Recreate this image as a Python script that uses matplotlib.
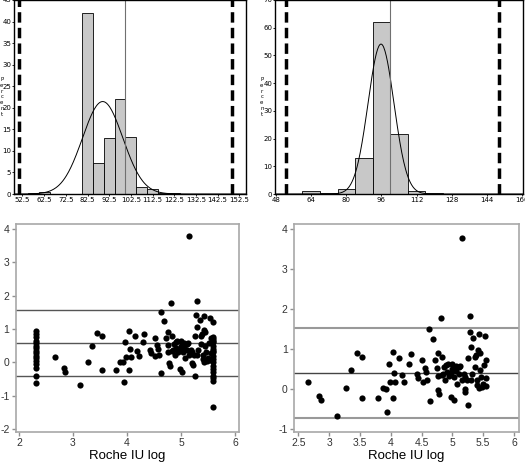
import numpy as np
import matplotlib
matplotlib.use("Agg")
import matplotlib.pyplot as plt

plt.rcParams["axes.unicode_minus"] = False

# histogram data (percent per bin)
h1_centers = [57.5, 62.5, 82.5, 87.5, 92.5, 97.5, 102.5, 107.5, 112.5, 117.5, 122.5]
h1_percent = [0.2, 0.5, 42.0, 7.3, 13.0, 22.0, 13.2, 1.6, 1.2, 0.3, 0.3]
h1_mean, h1_sd = 89.5, 9.3
h1_limits = [51, 149]
h1_xticks = [52.5, 62.5, 72.5, 82.5, 92.5, 102.5, 112.5, 122.5, 132.5, 142.5, 152.5]

h2_centers = [64, 72, 80, 88, 96, 104, 112, 120]
h2_percent = [1.2, 0.3, 1.8, 13.0, 62.0, 21.5, 1.2, 0.25]
h2_mean, h2_sd = 95.8, 5.9
h2_limits = [52.5, 149.5]
h2_xticks = [48, 64, 80, 96, 112, 128, 144, 160]

# Bland-Altman style points (shared by both panels)
pts_x = [2.66, 2.84, 2.86, 3.12, 3.28, 3.35, 3.45, 3.53, 3.54, 3.79, 3.87, 3.92, 3.94, 3.97,
         3.98, 4.03, 4.04, 4.06, 4.07, 4.14, 4.19, 4.22, 4.30, 4.32, 4.43, 4.44, 4.51, 4.52,
         4.56, 4.57, 4.59, 4.62, 4.63, 4.68, 4.72, 4.75, 4.76, 4.76, 4.77, 4.79, 4.82, 4.83,
         4.83, 4.86, 4.88, 4.91, 4.93, 4.95, 4.98, 4.99, 5.02, 5.03, 5.06, 5.07, 5.10, 5.12,
         5.15, 5.15, 5.18, 5.20, 5.21, 5.23, 5.25, 5.25, 5.28, 5.29, 5.30, 5.31, 5.34, 5.37,
         5.38, 5.40, 5.40, 5.42, 5.43, 5.43, 5.45, 5.46, 5.48, 5.49, 5.51, 5.53, 5.55, 5.55,
         5.54, 4.90, 4.97, 5.05, 5.10, 5.30, 5.20, 5.36, 5.45, 5.00, 4.85]
pts_y = [0.17, -0.18, -0.28, -0.68, 0.02, 0.48, 0.89, 0.80, -0.23, -0.24, 0.01, 0.0, -0.59, 0.61,
         0.16, 0.93, -0.23, 0.40, 0.17, 0.78, 0.35, 0.18, 0.62, 0.86, 0.38, 0.27, 0.73, 0.18,
         0.53, 0.41, 0.22, 1.50, -0.31, 1.24, 0.73, 0.51, 0.90, 0.32, -0.03, -0.12, 1.78, 0.80,
         0.34, 0.55, 0.22, 0.43, 0.63, 0.32, -0.20, 0.63, -0.28, 0.30, 0.57, 0.13, 0.38, 0.58,
         3.78, 0.22, 0.38, -0.01, -0.08, 0.22, -0.41, 0.78, 1.41, 1.83, 1.05, 0.38, 1.26, 0.55,
         0.84, 0.23, 0.09, 0.97, 0.01, 1.38, 0.48, 0.30, 0.05, 0.13, 0.59, 1.32, 0.72, 0.28,
         0.07, 0.60, 0.40, 0.45, 0.55, 0.22, 0.30, 0.80, 0.90, 0.50, 0.38]

# censored values only in left panel
low_x = [2.31] * 16
low_y = [0.93, 0.85, 0.75, 0.65, 0.58, 0.50, 0.42, 0.35, 0.28, 0.20, 0.12, 0.05, -0.05, -0.18,
         -0.40, -0.62]
high_x = [5.58] * 19
high_y = [1.20, 0.75, 0.70, 0.65, 0.60, 0.50, 0.40, 0.30, 0.20, 0.10, 0.0, -0.10, -0.20, -0.30,
          -0.40, -0.48, -0.55, 0.35, -1.35]

left_lines = [1.57, 0.58, -0.42]
right_lines = [1.53, 0.40, -0.72]

fig = plt.figure(figsize=(5.25, 4.65), dpi=100)


def hist_panel(rect, centers, percent, width, mean, sd, limits, xticks, xlim, ylim, yticks, labels):
    ax = fig.add_axes(rect)
    ax.bar(centers, percent, width=width, color="#c8c8c8", edgecolor="black", linewidth=0.6)
    xs = np.linspace(xlim[0], xlim[1], 400)
    ys = 100 * width / (sd * np.sqrt(2 * np.pi)) * np.exp(-0.5 * ((xs - mean) / sd) ** 2)
    ax.plot(xs, ys, color="black", lw=0.7)
    ax.axvline(100, color="#707070", lw=0.8)
    for lim in limits:
        ax.axvline(lim, color="black", lw=2.5, dashes=(3, 1.5))
    ax.set_xlim(xlim)
    ax.set_ylim(ylim)
    ax.set_xticks(xticks)
    ax.set_xticklabels(labels)
    ax.set_yticks(yticks)
    ax.tick_params(labelsize=5, length=1.5, width=0.6, pad=0.5)
    for s in ax.spines.values():
        s.set_linewidth(1.0)
    return ax


hist_panel([14 / 525, 1 - 194 / 465, 232 / 525, 194 / 465], h1_centers, h1_percent, 5,
           h1_mean, h1_sd, h1_limits, h1_xticks, (48.6, 155.6), (0, 45), range(0, 46, 5),
           [str(t) for t in h1_xticks])
hist_panel([275 / 525, 1 - 194 / 465, 248 / 525, 194 / 465], h2_centers, h2_percent, 8,
           h2_mean, h2_sd, h2_limits, h2_xticks, (47.5, 160.5), (0, 70), range(0, 71, 10),
           [str(t) for t in h2_xticks])

for xpos in [1.8 / 525, 261.8 / 525]:
    fig.text(xpos, 1 - 97 / 465, "P\ne\nr\nc\ne\nn\nt", fontsize=4, ha="center",
             va="center", linespacing=1.2)


def scatter_panel(rect, xs, ys, lines, line_colors, xlim, ylim, xticks, yticks, xlabels):
    ax = fig.add_axes(rect)
    ax.scatter(xs, ys, s=20, color="black", zorder=3, linewidths=0)
    for v, c in zip(lines, line_colors):
        ax.axhline(v, color=c[0], lw=c[1])
    ax.set_xlim(xlim)
    ax.set_ylim(ylim)
    ax.set_xticks(xticks)
    ax.set_xticklabels(xlabels)
    ax.set_yticks(yticks)
    for s in ax.spines.values():
        s.set_color("#a8a8a8")
        s.set_linewidth(1.2)
    ax.tick_params(colors="#909090", labelcolor="#333333", labelsize=7.5, length=3, width=1,
                   pad=1.5)
    ax.set_xlabel("Roche IU log", fontsize=9.5, family="Liberation Sans", labelpad=1)
    for lab in ax.get_xticklabels() + ax.get_yticklabels():
        lab.set_family("Liberation Sans")
    return ax


scatter_panel([15.7 / 525, 1 - 432 / 465, 223.3 / 525, 208 / 465],
              pts_x + low_x + high_x, pts_y + low_y + high_y, left_lines,
              [("#555555", 1.0)] * 3, (1.94, 6.07), (-2.09, 4.15), [2, 3, 4, 5, 6],
              range(-2, 5), ["2", "3", "4", "5", "6"])
scatter_panel([294 / 525, 1 - 432 / 465, 225 / 525, 208 / 465], pts_x, pts_y, right_lines,
              [("#999999", 1.5), ("#444444", 1.0), ("#999999", 1.5)], (2.43, 6.08),
              (-1.08, 4.12), [2.5, 3, 3.5, 4, 4.5, 5, 5.5, 6], range(-1, 5),
              ["2.5", "3", "3.5", "4", "4.5", "5", "5.5", "6"])

fig.savefig("out.png", dpi=100)
